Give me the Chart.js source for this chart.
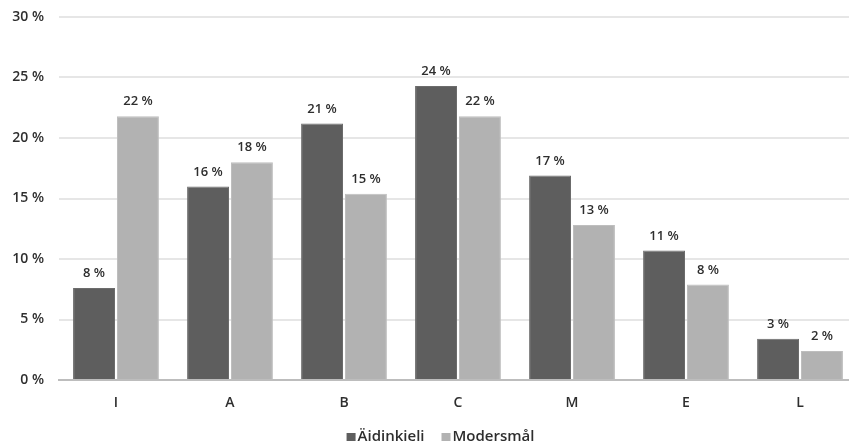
<!DOCTYPE html>
<html>
<head>
<meta charset="utf-8">
<script src="https://cdn.jsdelivr.net/npm/chart.js@4/dist/chart.umd.min.js"></script>
<style>
  html, body { margin: 0; padding: 0; background: #ffffff; overflow: hidden; }
  /* the plot area runs a little past the right edge of the window */
  #wrap { width: 857px; height: 445px; position: relative; }
</style>
</head>
<body>
<div id="wrap"><canvas id="chart"></canvas></div>
<script>
// Categories and shares (%) for the two language groups
const categories = ['I', 'A', 'B', 'C', 'M', 'E', 'L'];
const aidinkieli = [7.6, 16.0, 21.2, 24.3, 16.9, 10.7, 3.4];
const modersmal = [21.8, 18.0, 15.4, 21.8, 12.8, 7.9, 2.4];
const seriesNames = ['Äidinkieli', 'Modersmål'];
const yTicks = [0, 5, 10, 15, 20, 25, 30];

const FONT = '"Open Sans", "DejaVu Sans", sans-serif';
const TEXT = '#2e2e2e';
const COLORS = ['#5e5e5e', '#b2b2b2'];
const EDGES = ['#6c6c6c', '#bebebe'];

// Writes the rounded value above each bar
const valueLabels = {
  id: 'valueLabels',
  afterDatasetsDraw(chart) {
    const ctx = chart.ctx;
    ctx.save();
    ctx.font = '600 13px ' + FONT;
    ctx.fillStyle = TEXT;
    ctx.textAlign = 'center';
    ctx.textBaseline = 'bottom';
    chart.data.datasets.forEach((ds, i) => {
      chart.getDatasetMeta(i).data.forEach((bar, j) => {
        ctx.fillText(Math.round(ds.data[j]) + ' %', bar.x, bar.y - 8);
      });
    });
    ctx.restore();
  }
};

// Compact legend row: small square, narrow gap, label
const compactLegend = {
  id: 'compactLegend',
  afterDraw(chart) {
    const ctx = chart.ctx;
    const box = 9, gapText = 2, gapItem = 17;
    const centreX = 440.5, midY = 437;
    ctx.save();
    ctx.font = '600 15px ' + FONT;
    const items = chart.data.datasets.map(ds => ({
      text: ds.label, color: ds.backgroundColor, w: ctx.measureText(ds.label).width
    }));
    const total = items.reduce((s, it) => s + box + gapText + it.w, 0) + gapItem * (items.length - 1);
    let x = centreX - total / 2;
    ctx.textBaseline = 'middle';
    ctx.textAlign = 'left';
    items.forEach(it => {
      ctx.fillStyle = it.color;
      ctx.fillRect(x, midY - 4, box, 8);
      x += box + gapText;
      ctx.fillStyle = TEXT;
      ctx.fillText(it.text, x, midY);
      x += it.w + gapItem;
    });
    ctx.restore();
  }
};

new Chart(document.getElementById('chart'), {
  type: 'bar',
  data: {
    labels: categories,
    datasets: [
      { label: seriesNames[0], data: aidinkieli, backgroundColor: COLORS[0], borderColor: EDGES[0], borderWidth: 1 },
      { label: seriesNames[1], data: modersmal, backgroundColor: COLORS[1], borderColor: EDGES[1], borderWidth: 1 }
    ]
  },
  options: {
    responsive: true,
    maintainAspectRatio: false,
    animation: false,
    layout: { padding: { top: 17, right: 0, left: 0, bottom: 0 } },
    datasets: { bar: { categoryPercentage: 0.77, barPercentage: 0.955 } },
    scales: {
      x: {
        afterFit(s) { s.height = 65; },
        grid: { display: false, drawTicks: false },
        border: { display: true, color: '#bdbdbd', width: 2 },
        ticks: { color: TEXT, font: { family: FONT, size: 14, weight: '600' }, padding: 15 }
      },
      y: {
        min: 0, max: 30,
        afterFit(s) { s.width = 59; s.paddingTop = 0; s.paddingBottom = 0; },
        afterBuildTicks(s) { s.ticks = yTicks.map(v => ({ value: v })); },
        grid: { color: '#e6e6e6', lineWidth: 2, drawTicks: false },
        border: { display: false },
        ticks: {
          color: TEXT,
          font: { family: FONT, size: 14, weight: '600' },
          padding: 15,
          callback: v => v + ' %'
        }
      }
    },
    plugins: {
      legend: { display: false },
      tooltip: { enabled: false }
    }
  },
  plugins: [valueLabels, compactLegend]
});
</script>
</body>
</html>
